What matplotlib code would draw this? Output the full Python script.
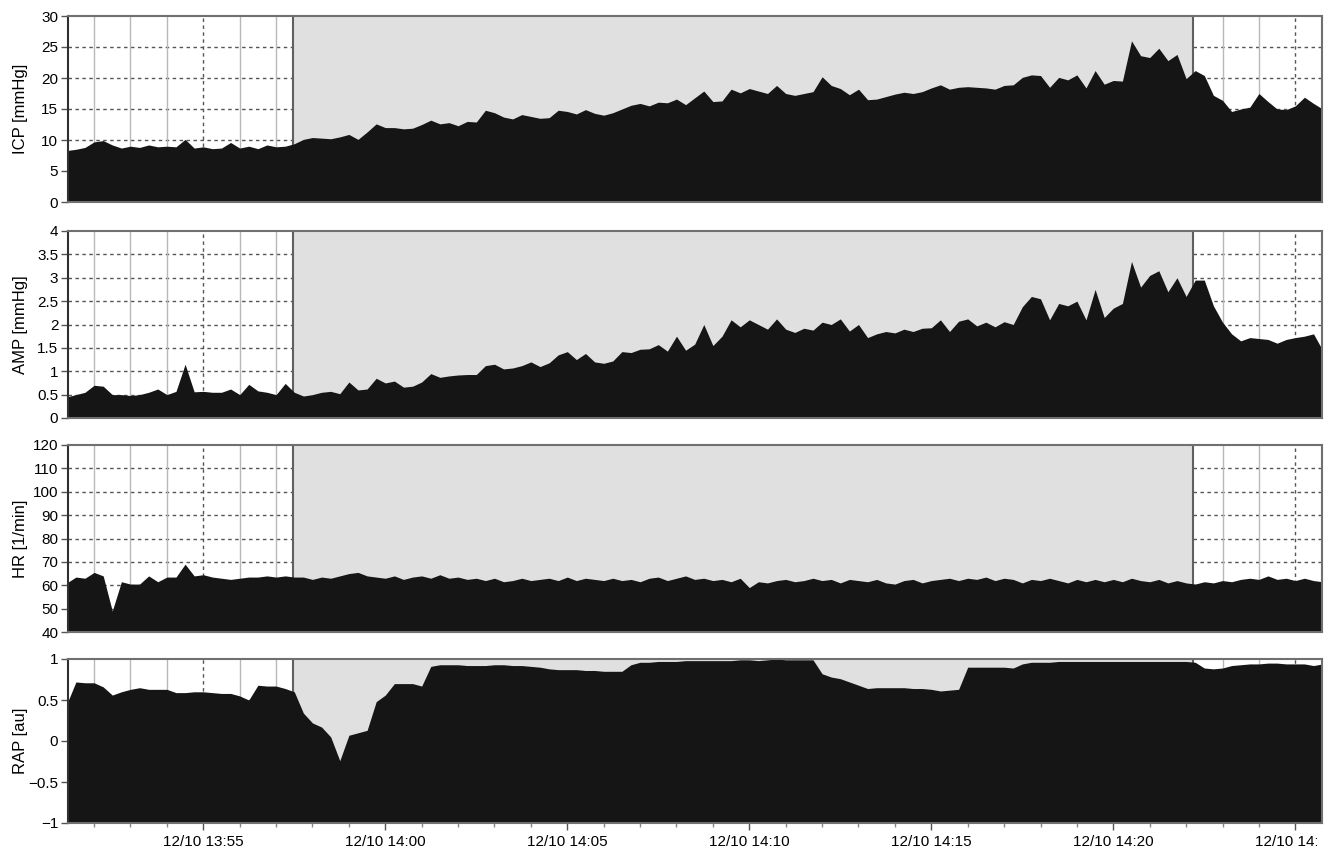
import numpy as np
import pandas as pd
import matplotlib
matplotlib.use("Agg")
import matplotlib.pyplot as plt
import matplotlib.dates as mdates
from matplotlib.ticker import FuncFormatter
from matplotlib.transforms import Bbox

plt.rcParams["font.family"] = ["Liberation Sans", "DejaVu Sans"]

# 15 s samples, 12/10 13:51:15 .. 14:25:45
times = pd.date_range("2010-12-10 13:51:15", periods=139, freq="15s")

icp = [8.3, 8.5, 8.8, 9.7, 9.9, 9.2, 8.7, 9.0, 8.8, 9.2,
       8.9, 9.0, 8.9, 10.1, 8.7, 8.9, 8.6, 8.7, 9.6, 8.7,
       9.0, 8.6, 9.2, 8.9, 9.0, 9.4, 10.1, 10.4, 10.3, 10.2,
       10.5, 10.9, 10.1, 11.3, 12.6, 12.0, 12.0, 11.8, 11.9, 12.5,
       13.2, 12.6, 12.8, 12.3, 13.0, 12.9, 14.8, 14.4, 13.7, 13.4,
       14.1, 13.8, 13.5, 13.6, 14.8, 14.6, 14.2, 14.9, 14.3, 14.0,
       14.4, 15.0, 15.6, 15.9, 15.5, 16.1, 16.0, 16.6, 15.7, 16.8,
       17.9, 16.2, 16.3, 18.2, 17.6, 18.3, 17.9, 17.5, 18.8, 17.5,
       17.2, 17.5, 17.8, 20.2, 18.8, 18.3, 17.3, 18.2, 16.5, 16.6,
       17.0, 17.4, 17.7, 17.5, 17.8, 18.4, 18.9, 18.2, 18.5, 18.6,
       18.5, 18.4, 18.2, 18.8, 18.9, 20.1, 20.5, 20.4, 18.5, 20.1,
       19.7, 20.5, 18.4, 21.2, 19.0, 19.6, 19.5, 26.0, 23.6, 23.3,
       24.8, 22.8, 23.8, 19.9, 21.2, 20.4, 17.2, 16.4, 14.6, 15.0,
       15.3, 17.5, 16.2, 15.0, 14.9, 15.5, 16.9, 15.9, 15.0]

amp = [0.45, 0.50, 0.55, 0.70, 0.68, 0.50, 0.50, 0.48, 0.50, 0.55,
       0.62, 0.50, 0.57, 1.15, 0.56, 0.57, 0.55, 0.55, 0.62, 0.50,
       0.72, 0.58, 0.55, 0.50, 0.74, 0.55, 0.47, 0.50, 0.55, 0.57,
       0.52, 0.77, 0.60, 0.62, 0.85, 0.75, 0.79, 0.66, 0.68, 0.77,
       0.95, 0.87, 0.90, 0.92, 0.93, 0.93, 1.12, 1.15, 1.05, 1.07,
       1.12, 1.20, 1.10, 1.18, 1.35, 1.42, 1.25, 1.38, 1.20, 1.17,
       1.22, 1.42, 1.40, 1.47, 1.48, 1.57, 1.43, 1.75, 1.45, 1.58,
       2.00, 1.55, 1.75, 2.10, 1.95, 2.10, 2.00, 1.90, 2.12, 1.90,
       1.83, 1.92, 1.88, 2.05, 2.00, 2.12, 1.86, 2.00, 1.72, 1.80,
       1.85, 1.82, 1.90, 1.85, 1.92, 1.93, 2.10, 1.85, 2.07, 2.12,
       1.97, 2.05, 1.95, 2.06, 2.00, 2.38, 2.60, 2.55, 2.10, 2.45,
       2.40, 2.50, 2.10, 2.75, 2.15, 2.35, 2.45, 3.35, 2.80, 3.05,
       3.15, 2.70, 3.00, 2.60, 2.95, 2.95, 2.40, 2.05, 1.80, 1.65,
       1.72, 1.70, 1.68, 1.60, 1.68, 1.72, 1.75, 1.80, 1.45]

hr = [61, 63.5, 63, 65.5, 64, 49, 61.5, 60.5, 60.5, 64,
      61.5, 63.5, 63.5, 69, 64, 64.5, 63.5, 63, 62.5, 63,
      63.5, 63.5, 64, 63.5, 64, 63.5, 63.5, 62.5, 63.5, 63,
      64, 65, 65.5, 64, 63.5, 63, 64, 62.5, 63.5, 64,
      63, 64.5, 63, 63.5, 62.5, 63, 62, 63, 61.5, 62,
      63, 62, 62.5, 63, 62, 63.5, 62, 63, 62.5, 62,
      63, 62, 62.5, 61.5, 63, 63.5, 62, 63, 64, 62.5,
      63, 62, 62.5, 61.5, 63, 59, 61.5, 61, 62, 62.5,
      61.5, 62, 63, 62, 62.5, 61, 62.5, 62, 61.5, 62.5,
      61, 60.5, 62, 62.5, 61, 62, 62.5, 63, 62, 63,
      62.5, 63.5, 62, 63, 62.5, 61, 62.5, 62, 63, 62,
      61, 62.5, 61.5, 62.5, 61.5, 62.5, 61.5, 63, 62, 61.5,
      62.5, 61, 62, 61, 60.5, 61.5, 61, 62, 61.5, 62.5,
      63, 62.5, 64, 62.5, 63, 62, 63, 62, 61.5]

rap = [0.45, 0.72, 0.71, 0.71, 0.66, 0.56, 0.60, 0.63, 0.65, 0.63,
       0.63, 0.63, 0.59, 0.59, 0.60, 0.60, 0.59, 0.58, 0.58, 0.55,
       0.50, 0.68, 0.67, 0.67, 0.64, 0.60, 0.34, 0.22, 0.17, 0.05,
       -0.24, 0.07, 0.10, 0.13, 0.48, 0.56, 0.70, 0.70, 0.70, 0.67,
       0.91, 0.93, 0.93, 0.93, 0.92, 0.92, 0.92, 0.93, 0.93, 0.92,
       0.92, 0.91, 0.90, 0.88, 0.87, 0.87, 0.87, 0.86, 0.86, 0.85,
       0.85, 0.85, 0.93, 0.96, 0.96, 0.97, 0.97, 0.97, 0.98, 0.98,
       0.98, 0.98, 0.98, 0.98, 0.99, 0.99, 0.98, 0.99, 1.00, 0.99,
       0.99, 0.99, 0.99, 0.82, 0.78, 0.76, 0.72, 0.68, 0.64, 0.65,
       0.65, 0.65, 0.65, 0.64, 0.64, 0.63, 0.61, 0.62, 0.63, 0.90,
       0.90, 0.90, 0.90, 0.90, 0.89, 0.94, 0.96, 0.96, 0.96, 0.97,
       0.97, 0.97, 0.97, 0.97, 0.97, 0.97, 0.97, 0.97, 0.97, 0.97,
       0.97, 0.97, 0.97, 0.97, 0.96, 0.89, 0.88, 0.89, 0.92, 0.93,
       0.94, 0.94, 0.95, 0.95, 0.94, 0.94, 0.94, 0.92, 0.94]

labels = ["ICP [mmHg]", "AMP [mmHg]", "HR [1/min]", "RAP [au]"]
ylims = [(0, 30), (0, 4), (40, 120), (-1, 1)]
ysteps = [5, 0.5, 10, 0.5]

shade_start = pd.Timestamp("2010-12-10 13:57:28")
shade_end = pd.Timestamp("2010-12-10 14:22:12")
x_start = pd.Timestamp("2010-12-10 13:51:17")
x_end = pd.Timestamp("2010-12-10 14:25:44")

fig = plt.figure(figsize=(13.33, 8.49), dpi=100)
W, H = 1333, 849
left, right = 68 / W, 1322 / W
boxes = [(16, 202), (231, 418), (445, 632), (659, 823)]

series = [icp, amp, hr, rap]
axes = []
for k, (top, bot) in enumerate(boxes):
    ax = fig.add_axes([left, 1 - bot / H, right - left, (bot - top) / H])
    axes.append(ax)
    lo, hi = ylims[k]
    ax.set_xlim(x_start, x_end)
    ax.set_ylim(lo, hi)
    ticks = np.arange(lo, hi + ysteps[k] / 2, ysteps[k])
    ax.set_yticks(ticks)
    ax.yaxis.set_major_formatter(FuncFormatter(lambda v, p: ("%g" % v).replace("-", "\u2212")))

    # grid: dotted at y ticks and every 5 min, light solid every minute
    for t in ticks[1:-1]:
        ax.axhline(t, color="#555555", lw=1.0, ls=(0, (2.5, 2.5)), zorder=0.5)
    for m in pd.date_range("2010-12-10 13:52", "2010-12-10 14:25", freq="1min"):
        if m.minute % 5 == 0:
            ax.axvline(m, color="#555555", lw=1.0, ls=(0, (2.5, 2.5)), zorder=0.5)
        else:
            ax.axvline(m, color="#b8b8b8", lw=1.0, zorder=0.5)

    ax.axvspan(shade_start, shade_end, color="#e0e0e0", lw=0, zorder=1)
    ax.axvline(shade_start, color="#606060", lw=1.5, zorder=1.5)
    ax.axvline(shade_end, color="#606060", lw=1.5, zorder=1.5)

    ax.fill_between(times, series[k], lo, color="#151515", lw=0, zorder=2)

    ax.set_ylabel(labels[k], fontsize=12)
    ax.tick_params(axis="y", labelsize=11, length=5, width=1, color="#555555", pad=2)
    for s in ax.spines.values():
        s.set_color("#707070")
        s.set_linewidth(1.5)
        s.set_zorder(3)
    ax.spines["left"].set_color("#303030")

    ax.xaxis.set_major_locator(mdates.MinuteLocator(byminute=range(0, 60, 5)))
    ax.xaxis.set_minor_locator(mdates.MinuteLocator())
    ax.xaxis.set_major_formatter(mdates.DateFormatter("%m/%d %H:%M"))
    ax.tick_params(axis="x", which="major", length=5, width=1, color="#555555",
                   labelsize=11, pad=4)
    ax.tick_params(axis="x", which="minor", length=3, width=1, color="#888888")
    if k < 3:
        ax.tick_params(axis="x", which="both", labelbottom=False, length=0)

for ax in axes:
    ax.yaxis.set_label_coords(-0.032, 0.5)

# the last time label is cut at the right edge, as in the source figure
fig.canvas.draw()
cut = Bbox.from_extents(0, 0, 1317, H)
for lab in axes[-1].get_xticklabels():
    lab.set_clip_box(cut)
    lab.set_clip_on(True)

fig.savefig("out.png", dpi=100)
